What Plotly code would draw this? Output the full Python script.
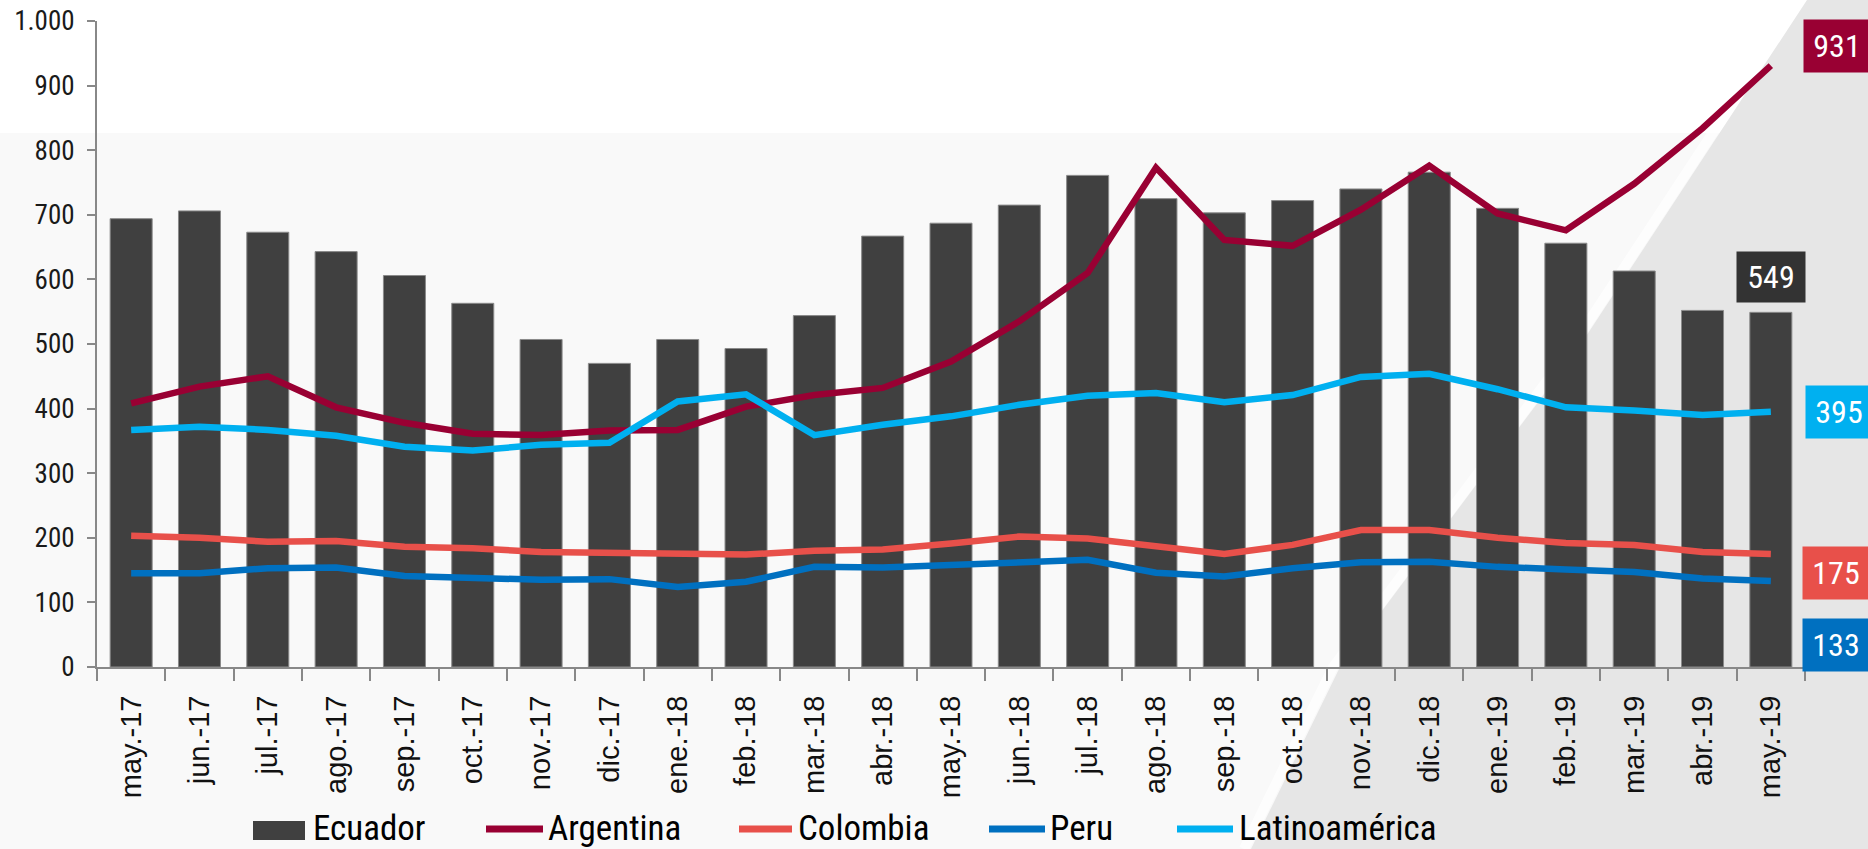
import plotly.graph_objects as go

months = ["may.-17", "jun.-17", "jul.-17", "ago.-17", "sep.-17", "oct.-17", "nov.-17",
          "dic.-17", "ene.-18", "feb.-18", "mar.-18", "abr.-18", "may.-18", "jun.-18",
          "jul.-18", "ago.-18", "sep.-18", "oct.-18", "nov.-18", "dic.-18", "ene.-19",
          "feb.-19", "mar.-19", "abr.-19", "may.-19"]
ecuador = [694, 706, 673, 643, 606, 563, 507, 470, 507, 493, 544, 667, 687, 715, 761,
           725, 703, 722, 740, 766, 710, 656, 613, 552, 549]
argentina = [408, 434, 450, 402, 378, 361, 359, 366, 367, 403, 421, 432, 473, 535, 610,
             773, 661, 652, 708, 776, 702, 676, 748, 834, 931]
colombia = [203, 200, 194, 195, 186, 184, 178, 177, 175, 174, 180, 182, 191, 202, 199,
            186, 175, 189, 212, 212, 200, 192, 189, 178, 175]
peru = [145, 145, 153, 154, 141, 137, 135, 136, 124, 132, 155, 154, 158, 163, 166,
        146, 140, 153, 162, 163, 155, 151, 147, 137, 133]
latam = [367, 372, 367, 358, 341, 335, 344, 347, 411, 422, 359, 375, 388, 406, 420,
         424, 410, 421, 449, 454, 430, 402, 397, 390, 395]

C_ECU = "#404040"
C_ARG = "#990033"
C_COL = "#E8504A"
C_PER = "#0070C0"
C_LAT = "#00B0F0"

NARROW = "Liberation Sans Narrow, Arial Narrow, Roboto Condensed, Noto Sans Condensed, Liberation Sans, Arial, sans-serif"
REG = "Liberation Sans, Arial, sans-serif"

# window geometry (page body margin removed by post_script)
WIN_W, WIN_H, OFF = 1868, 849, 0
X0, X1, Y0, Y1 = 97, 1805, 21, 667          # plot area in window pixels
W, H = WIN_W - OFF, WIN_H - OFF
L, R, T, B = X0 - OFF, WIN_W - X1, Y0 - OFF, WIN_H - Y1
PW, PH = X1 - X0, Y1 - Y0


def px(x):
    return (x - X0) / PW


def py(y):
    return (Y1 - y) / PH


fig = go.Figure()
fig.add_trace(go.Bar(x=months, y=ecuador, name="Ecuador",
                     marker=dict(color=C_ECU, line=dict(color="#8a8a8a", width=1))))
for name, vals, col in [("Argentina", argentina, C_ARG), ("Colombia", colombia, C_COL),
                        ("Peru", peru, C_PER), ("Latinoamérica", latam, C_LAT)]:
    fig.add_trace(go.Scatter(x=months, y=vals, name=name, mode="lines",
                             line=dict(color=col, width=6.5)))

shapes = []
# background: light gray lower band
shapes.append(dict(type="rect", xref="paper", yref="paper", layer="below",
                   x0=px(0), x1=px(WIN_W), y0=py(WIN_H), y1=py(133),
                   fillcolor="#F9F9F9", line=dict(width=0)))
# soft highlight along the diagonal edge
hl = [(1800, 0), (1570, 350), (1333, 667), (1244, 849)]
hpath = "M " + " L ".join(f"{px(a):.5f},{py(b):.5f}" for a, b in hl)
shapes.append(dict(type="path", xref="paper", yref="paper", layer="below", path=hpath,
                   line=dict(color="rgba(255,255,255,0.7)", width=10)))
# diagonal gray area on the right
pts = [(1807, 0), (1577, 350), (1340, 667), (1251, 849), (1868, 849), (1868, 0)]
path = "M " + " L ".join(f"{px(a):.5f},{py(b):.5f}" for a, b in pts) + " Z"
shapes.append(dict(type="path", xref="paper", yref="paper", layer="below", path=path,
                   fillcolor="#E6E6E6", line=dict(width=0)))

# custom legend
LY = 829
shapes.append(dict(type="rect", xref="paper", yref="paper", x0=px(253), x1=px(305),
                   y0=py(840), y1=py(821), fillcolor=C_ECU, line=dict(width=0)))
leg = [("Argentina", C_ARG, 486, 543), ("Colombia", C_COL, 739, 792),
       ("Peru", C_PER, 989, 1045), ("Latinoamérica", C_LAT, 1177, 1233)]
for nm, col, a, b in leg:
    shapes.append(dict(type="line", xref="paper", yref="paper", x0=px(a), x1=px(b),
                       y0=py(LY), y1=py(LY), line=dict(color=col, width=7)))

annotations = []
for nm, t in [("Ecuador", 311), ("Argentina", 546), ("Colombia", 796), ("Peru", 1048),
              ("Latinoamérica", 1237)]:
    annotations.append(dict(text=nm, xref="paper", yref="paper", x=px(t), y=py(828),
                            xanchor="left", yanchor="middle", showarrow=False,
                            font=dict(family=NARROW, size=35, color="#000000")))

# end value boxes
last = months[-1]
boxes = [(argentina[-1], C_ARG, 32, 20),
         (latam[-1], C_LAT, 34, 0),
         (colombia[-1], C_COL, 31, -19),
         (peru[-1], C_PER, 31, -64)]
for v, col, xs, ys in boxes:
    annotations.append(dict(text=str(v), x=last, y=v, xref="x", yref="y", xanchor="left",
                            yanchor="middle", xshift=xs, yshift=ys, showarrow=False,
                            bgcolor=col, width=66, height=52, borderpad=0,
                            font=dict(family=NARROW, size=32, color="white")))
annotations.append(dict(text=str(ecuador[-1]), x=last, y=ecuador[-1], xref="x", yref="y",
                        xanchor="center", yanchor="bottom", yshift=9, showarrow=False,
                        bgcolor="#333333", width=68, height=50, borderpad=0,
                        font=dict(family=NARROW, size=32, color="white")))

fig.update_layout(
    width=W, height=H,
    margin=dict(l=L, r=R, t=T, b=B, pad=0),
    paper_bgcolor="white", plot_bgcolor="rgba(0,0,0,0)",
    showlegend=False, bargap=0.385,
    separators=",.",
    shapes=shapes, annotations=annotations,
    xaxis=dict(type="category", range=[-0.5, len(months) - 0.5], showgrid=False,
               zeroline=False, automargin=False,
               showline=True, linecolor="#888888", linewidth=2,
               ticks="outside", tickson="boundaries", ticklen=12, tickcolor="#888888",
               tickwidth=2, tickangle=-90, ticklabelstandoff=15,
               tickfont=dict(family=REG, size=29, color="#111111")),
    yaxis=dict(range=[0, 1000], dtick=100, tickformat=",d", showgrid=False,
               zeroline=False, showline=True, linecolor="#888888", linewidth=2,
               automargin=False, ticklabeloverflow="allow",
               ticks="outside", ticklen=8, tickcolor="#888888", tickwidth=2,
               ticklabelstandoff=7,
               tickfont=dict(family=NARROW, size=27, color="#1a1a1a")),
)

fig.write_html("out.html", config={"displayModeBar": False},
               post_script="document.body.style.margin='0px';")
